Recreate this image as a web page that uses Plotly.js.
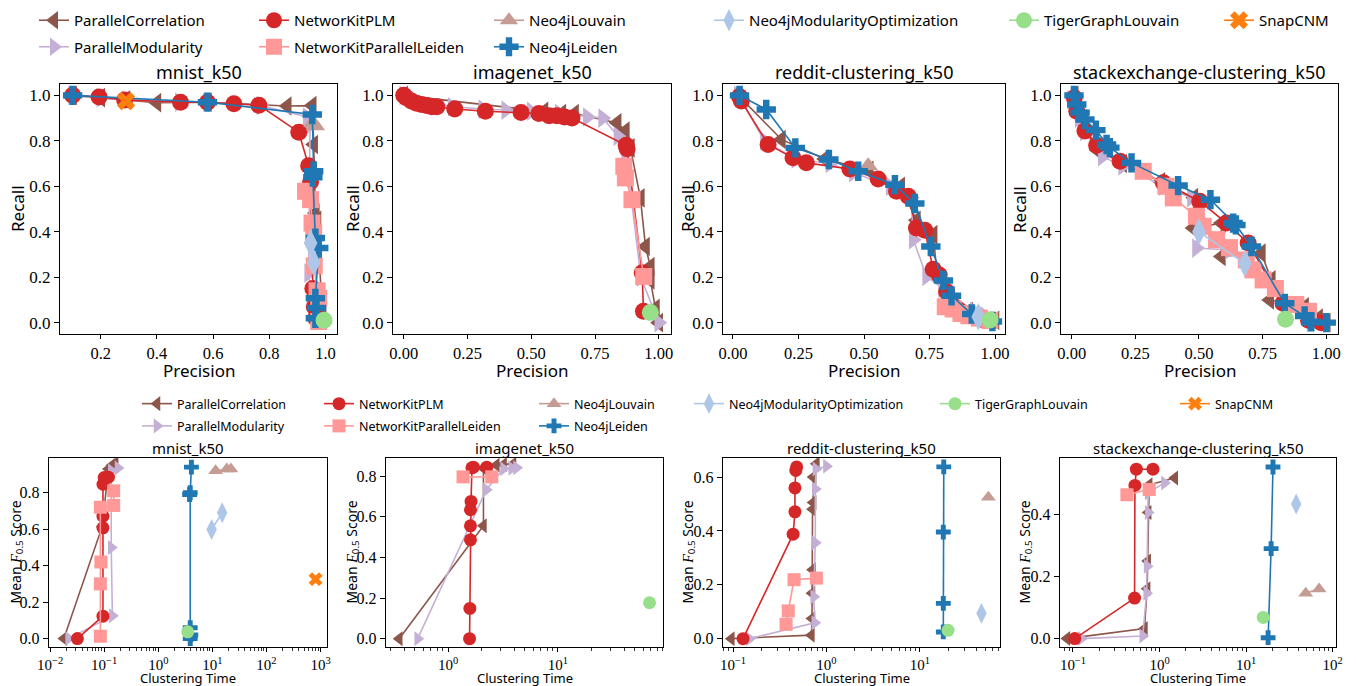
<!DOCTYPE html>
<html><head><meta charset="utf-8">
<script src="https://cdn.plot.ly/plotly-3.0.1.min.js"></script>
<style>html,body{margin:0;padding:0;background:#fff}</style>
</head><body><div id="chart" style="width:1356px;height:686px"></div>
<script>
// ---------- series definitions ----------
const seriesNames = ['ParallelCorrelation','ParallelModularity','NetworKitPLM','NetworKitParallelLeiden','Neo4jLouvain','Neo4jLeiden','Neo4jModularityOptimization','TigerGraphLouvain','SnapCNM'];
const seriesColors = ['#8c564b','#c5b0d5','#d62728','#ff9896','#c49c94','#1f77b4','#aec7e8','#98df8a','#ff7f0e'];
const seriesSymbols = ['triangle-left','triangle-right','circle','square','triangle-up','cross','diamond-tall','circle','x'];
const datasetTitles = ['mnist_k50','imagenet_k50','reddit-clustering_k50','stackexchange-clustering_k50'];

// ---------- Precision / Recall (top row): [precision[], recall[]] ----------
const mnistPR = {
  ParallelCorrelation: [[0.1,0.2,0.29,0.40,0.58,0.864,0.953,0.958,0.964,0.97,0.988,0.98],[1.0,0.99,0.98,0.968,0.97,0.953,0.955,0.784,0.482,0.45,0.063,0.01]],
  ParallelModularity: [[0.1,0.2,0.29,0.48,0.58,0.77,0.935,0.945,0.94,0.955],[1.0,0.99,0.98,0.97,0.97,0.955,0.905,0.87,0.218,0.04]],
  NetworKitPLM: [[0.1,0.194,0.285,0.484,0.58,0.674,0.763,0.905,0.94,0.947,0.955,0.96,0.965],[1.0,0.993,0.98,0.97,0.97,0.963,0.957,0.838,0.69,0.62,0.15,0.07,0.02]],
  NetworKitParallelLeiden: [[0.929,0.947,0.952,0.958,0.96,0.97,0.976,0.976],[0.578,0.541,0.438,0.394,0.25,0.14,0.107,0.005]],
  Neo4jLouvain: [[0.955,0.964],[0.88,0.865]],
  Neo4jLeiden: [[0.1,0.58,0.953,0.958,0.955,0.964,0.976,0.964,0.968,0.964],[1.0,0.97,0.916,0.666,0.64,0.372,0.328,0.107,0.065,0.019]],
  Neo4jModularityOptimization: [[0.947,0.958],[0.35,0.265]],
  TigerGraphLouvain: [[0.995],[0.01]],
  SnapCNM: [[0.29],[0.975]]
};
const imagenetPR = {
  ParallelCorrelation: [[0.0,0.55,0.62,0.67,0.837,0.869,0.889,0.928,0.948,0.967,0.967,0.987,1.0],[1.0,0.93,0.92,0.92,0.879,0.843,0.769,0.549,0.335,0.247,0.188,0.063,0.0]],
  ParallelModularity: [[0.0,0.19,0.31,0.40,0.50,0.61,0.72,0.78,0.84,0.87,0.93,1.0],[1.0,0.95,0.94,0.935,0.93,0.92,0.905,0.9,0.82,0.75,0.2,0.0]],
  NetworKitPLM: [[0.0,0.01,0.03,0.05,0.07,0.09,0.11,0.13,0.20,0.32,0.46,0.53,0.57,0.60,0.63,0.66,0.872,0.876,0.935,0.94],[1.0,0.99,0.975,0.965,0.96,0.955,0.95,0.95,0.94,0.93,0.925,0.92,0.91,0.91,0.905,0.9,0.78,0.765,0.22,0.05]],
  NetworKitParallelLeiden: [[0.863,0.869,0.895,0.941],[0.688,0.637,0.541,0.203]],
  TigerGraphLouvain: [[0.967],[0.045]]
};
const redditPR = {
  ParallelCorrelation: [[0.02,0.185,0.35,0.52,0.64,0.70,0.764,0.78,0.82,0.90,1.0],[1.0,0.806,0.72,0.67,0.6,0.45,0.387,0.2,0.1,0.05,0.01]],
  ParallelModularity: [[0.02,0.12,0.24,0.37,0.46,0.60,0.68,0.688,0.739,0.80,0.92,0.96],[1.0,0.8,0.72,0.7,0.66,0.6,0.55,0.365,0.203,0.15,0.05,0.03]],
  NetworKitPLM: [[0.025,0.032,0.134,0.229,0.28,0.446,0.554,0.624,0.669,0.70,0.732,0.764,0.787,0.815,0.96],[0.995,0.975,0.784,0.725,0.703,0.676,0.632,0.578,0.556,0.416,0.406,0.235,0.21,0.137,0.01]],
  NetworKitParallelLeiden: [[0.81,0.84,0.87,0.90,0.94,0.98],[0.07,0.06,0.04,0.03,0.02,0.01]],
  Neo4jLouvain: [[0.516],[0.69]],
  Neo4jLeiden: [[0.025,0.127,0.238,0.366,0.478,0.618,0.694,0.755,0.803,0.834,0.911,0.99],[1.0,0.938,0.769,0.718,0.666,0.607,0.524,0.335,0.185,0.118,0.038,0.005]],
  Neo4jModularityOptimization: [[0.936],[0.026]],
  TigerGraphLouvain: [[0.981],[0.012]]
};
const stackPR = {
  ParallelCorrelation: [[0.01,0.05,0.10,0.20,0.35,0.48,0.477,0.588,0.588,0.745,0.784,0.778,0.915,0.97,1.0],[1.0,0.87,0.76,0.7,0.62,0.55,0.416,0.438,0.291,0.306,0.188,0.1,0.07,0.02,0.0]],
  ParallelModularity: [[0.0,0.03,0.05,0.12,0.20,0.36,0.47,0.50,0.49,0.62,0.94],[0.98,0.9,0.84,0.73,0.69,0.6,0.55,0.52,0.328,0.32,0.0]],
  NetworKitPLM: [[0.01,0.02,0.052,0.098,0.19,0.36,0.503,0.608,0.693,0.83,0.93,0.98],[0.99,0.93,0.843,0.78,0.71,0.615,0.534,0.438,0.35,0.085,0.01,0.0]],
  NetworKitParallelLeiden: [[0.281,0.37,0.399,0.49,0.516,0.569,0.62,0.686,0.712,0.752,0.80,0.88,0.93],[0.666,0.6,0.549,0.468,0.424,0.365,0.33,0.276,0.232,0.188,0.15,0.08,0.05]],
  Neo4jLeiden: [[0.009,0.02,0.033,0.052,0.095,0.137,0.15,0.235,0.418,0.545,0.634,0.645,0.706,0.837,0.915,0.941,1.0],[1.0,0.96,0.924,0.894,0.847,0.784,0.77,0.703,0.603,0.541,0.438,0.43,0.335,0.085,0.029,0.004,0.0]],
  Neo4jModularityOptimization: [[0.50,0.68],[0.40,0.26]],
  TigerGraphLouvain: [[0.84],[0.015]]
};

// ---------- Clustering time / mean F0.5 (bottom row): [time[], f05[]] ----------
const mnistTF = {
  ParallelCorrelation: [[0.018,0.092,0.12,0.14,0.16],[0.0,0.615,0.93,0.95,0.96]],
  ParallelModularity: [[0.022,0.142,0.135,0.135,0.18],[0.0,0.125,0.5,0.92,0.935]],
  NetworKitPLM: [[0.032,0.095,0.095,0.095,0.095,0.1,0.12],[0.0,0.123,0.607,0.671,0.846,0.883,0.885]],
  NetworKitParallelLeiden: [[0.085,0.085,0.087,0.085,0.15,0.15],[0.013,0.3,0.42,0.72,0.73,0.81]],
  Neo4jLouvain: [[11.5,18.5,22],[0.92,0.93,0.93]],
  Neo4jLeiden: [[3.9,4.0,3.9,3.8,3.9,4.1],[0.0,0.02,0.06,0.79,0.80,0.94]],
  Neo4jModularityOptimization: [[9.7,15.2],[0.598,0.69]],
  TigerGraphLouvain: [[3.5],[0.037]],
  SnapCNM: [[810],[0.326]]
};
const imagenetTF = {
  ParallelCorrelation: [[0.36,2.1,2.1,2.75,3.2,3.9],[0.0,0.556,0.84,0.855,0.858,0.86]],
  ParallelModularity: [[0.53,2.23,3.2,3.8,4.2],[0.0,0.734,0.837,0.84,0.842]],
  NetworKitPLM: [[1.57,1.58,1.6,1.6,1.6,1.62,1.65,1.7,2.25],[0.0,0.149,0.487,0.556,0.635,0.676,0.842,0.845,0.845]],
  NetworKitParallelLeiden: [[1.37,2.5],[0.797,0.797]],
  TigerGraphLouvain: [[68],[0.177]]
};
const redditTF = {
  ParallelCorrelation: [[0.096,0.69,0.70,0.70,0.71,0.71,0.72,0.72,0.78],[0.0,0.013,0.075,0.169,0.256,0.481,0.506,0.6,0.65]],
  ParallelModularity: [[0.15,0.75,0.73,0.76,0.76,0.77,1.0],[0.0,0.059,0.156,0.356,0.556,0.63,0.64]],
  NetworKitPLM: [[0.128,0.44,0.46,0.46,0.47,0.48],[0.0,0.388,0.471,0.56,0.625,0.638]],
  NetworKitParallelLeiden: [[0.37,0.39,0.45,0.78],[0.053,0.103,0.219,0.225]],
  Neo4jLouvain: [[54],[0.525]],
  Neo4jLeiden: [[17.8,17.8,17.8,18.0],[0.025,0.131,0.396,0.638]],
  Neo4jModularityOptimization: [[45.6],[0.094]],
  TigerGraphLouvain: [[20],[0.031]]
};
const stackTF = {
  ParallelCorrelation: [[0.085,0.67,0.72,0.73,0.74,0.76,1.5],[0.0,0.032,0.16,0.249,0.405,0.494,0.516]],
  ParallelModularity: [[0.125,0.64,0.71,0.72,0.74,0.74,1.14],[0.0,0.008,0.146,0.232,0.405,0.468,0.5]],
  NetworKitPLM: [[0.105,0.515,0.52,0.54,0.84],[0.0,0.13,0.492,0.544,0.544]],
  NetworKitParallelLeiden: [[0.42,0.76],[0.462,0.479]],
  Neo4jLouvain: [[49,70],[0.146,0.159]],
  Neo4jLeiden: [[18,19.5,20.5],[0.003,0.289,0.551]],
  Neo4jModularityOptimization: [[38],[0.432]],
  TigerGraphLouvain: [[15.8],[0.068]]
};

const prPanels = [mnistPR, imagenetPR, redditPR, stackPR];
const tfPanels = [mnistTF, imagenetTF, redditTF, stackTF];

// axis ranges
const prXRanges = [[0.055,1.041],[-0.042,1.048],[-0.038,1.038],[-0.042,1.046]];
const prYRange = [-0.05,1.05];
const tfXRangesLog = [[-2.02,3.12],[-0.564,1.955],[-1.107,1.857],[-1.15,2.04]];
const tfYRanges = [[-0.046,0.99],[-0.041,0.89],[-0.031,0.671],[-0.027,0.58]];
const tfYTicks = [[0,0.2,0.4,0.6,0.8],[0,0.2,0.4,0.6,0.8],[0,0.2,0.4,0.6],[0,0.2,0.4]];

// ---------- layout geometry (pixels) ----------
const W = 1356, H = 686;
const topXpx = [[60,337],[393,671],[723,1005],[1061,1338]];
const botXpx = [[49,327],[386,663],[723,1000],[1060,1336]];
const topYpx = [84,334], botYpx = [458,647];
const px = v => v / W, py = v => (H - v) / H;

// legend columns (column-major like the original)
const legendCols = [[0,1],[2,3],[4,5],[6],[7],[8]];
const topLegendTextX = [74,294,529,749,1044,1259];
const botLegendTextX = [177,359,574,729,975,1215];

const serif = 'Liberation Serif, DejaVu Serif, serif';
const sans = 'Noto Sans, DejaVu Sans, sans-serif';

function legendIdFor(s, bottom) {
  let col = legendCols.findIndex(c => c.includes(s));
  let n = col + 1 + (bottom ? 6 : 0);
  return n === 1 ? 'legend' : 'legend' + n;
}

const traces = [];
function addPanel(data, axisIdx, bottom, first) {
  const msize = bottom ? 13 : 17;
  seriesNames.forEach((name, s) => {
    const d = data[name];
    if (!d) return;
    const sym = seriesSymbols[s];
    let size = msize;
    if (sym === 'x' || sym === 'cross') size = msize * 0.95;
    if (sym === 'diamond-tall') size = msize * 1.15;
    traces.push({
      type: 'scatter', mode: 'lines+markers',
      x: d[0], y: d[1],
      xaxis: 'x' + (axisIdx === 1 ? '' : axisIdx), yaxis: 'y' + (axisIdx === 1 ? '' : axisIdx),
      name: name, legendgroup: name,
      showlegend: first, legend: legendIdFor(s, bottom),
      line: {color: seriesColors[s], width: 1.6},
      marker: {color: seriesColors[s], symbol: sym, size: size, line: {width: 0}},
      cliponaxis: true
    });
  });
}
prPanels.forEach((d, i) => addPanel(d, i + 1, false, i === 0));
tfPanels.forEach((d, i) => addPanel(d, i + 5, true, i === 0));

const layout = {
  width: W, height: H,
  margin: {l: 0, r: 0, t: 0, b: 0},
  paper_bgcolor: '#fff', plot_bgcolor: '#fff',
  font: {family: sans, color: '#000'},
  annotations: [],
  showlegend: true
};

// top-row axes
for (let i = 0; i < 4; i++) {
  const k = i + 1;
  const xa = 'xaxis' + (k === 1 ? '' : k), ya = 'yaxis' + (k === 1 ? '' : k);
  const xt = i === 0 ? [0.2,0.4,0.6,0.8,1.0] : [0,0.25,0.5,0.75,1.0];
  layout[xa] = {
    domain: [px(topXpx[i][0]), px(topXpx[i][1])], anchor: 'y' + (k === 1 ? '' : k),
    range: prXRanges[i], tickmode: 'array', tickvals: xt, tickformat: i === 0 ? '.1f' : '.2f',
    ticks: 'outside', ticklen: 4, tickwidth: 1, tickcolor: '#000',
    showline: true, mirror: true, linecolor: '#000', linewidth: 1.2,
    showgrid: false, zeroline: false, tickfont: {family: serif, size: 16.5, color: '#000'}
  };
  layout[ya] = {
    domain: [py(topYpx[1]), py(topYpx[0])], anchor: 'x' + (k === 1 ? '' : k),
    range: prYRange, tickmode: 'array', tickvals: [0,0.2,0.4,0.6,0.8,1.0], tickformat: '.1f',
    ticks: 'outside', ticklen: 5, tickwidth: 1, tickcolor: '#000',
    showline: true, mirror: true, linecolor: '#000', linewidth: 1.2,
    showgrid: false, zeroline: false, tickfont: {family: serif, size: 17, color: '#000'}
  };
}

// bottom-row axes (log x)
const majorExps = [-2,-1,0,1,2,3];
const minorVals = [];
for (let e = -3; e <= 3; e++) for (let m = 2; m <= 9; m++) minorVals.push(m * Math.pow(10, e));
for (let i = 0; i < 4; i++) {
  const k = i + 5;
  const xa = 'xaxis' + k, ya = 'yaxis' + k;
  layout[xa] = {
    type: 'log', domain: [px(botXpx[i][0]), px(botXpx[i][1])], anchor: 'y' + k,
    range: tfXRangesLog[i], tickmode: 'array',
    tickvals: majorExps.map(e => Math.pow(10, e)),
    ticktext: majorExps.map(e => '10<sup>' + (e < 0 ? '\u2212' + (-e) : e) + '</sup>'),
    ticks: 'outside', ticklen: 4, tickwidth: 1, tickcolor: '#000',
    minor: {tickmode: 'array', tickvals: minorVals, ticks: 'outside', ticklen: 2.5, tickwidth: 0.8, tickcolor: '#000', showgrid: false},
    showline: true, mirror: true, linecolor: '#000', linewidth: 1.2,
    showgrid: false, zeroline: false, tickfont: {family: serif, size: 15, color: '#000'}
  };
  layout[ya] = {
    domain: [py(botYpx[1]), py(botYpx[0])], anchor: 'x' + k,
    range: tfYRanges[i], tickmode: 'array', tickvals: tfYTicks[i], tickformat: '.1f',
    ticks: 'outside', ticklen: 5, tickwidth: 1, tickcolor: '#000',
    showline: true, mirror: true, linecolor: '#000', linewidth: 1.2,
    showgrid: false, zeroline: false, tickfont: {family: serif, size: 16, color: '#000'}
  };
}

// titles and axis labels as annotations
const recallX = [18, 353, 688, 1020];
const f05X = [16, 352, 688, 1025];
for (let i = 0; i < 4; i++) {
  const cxTop = (topXpx[i][0] + topXpx[i][1]) / 2;
  const cxBot = (botXpx[i][0] + botXpx[i][1]) / 2;
  layout.annotations.push(
    {text: datasetTitles[i], x: px(cxTop), y: py(72), xref: 'paper', yref: 'paper', xanchor: 'center', yanchor: 'middle', showarrow: false, font: {family: sans, size: 18, color: '#000'}},
    {text: 'Precision', x: px(cxTop), y: py(370), xref: 'paper', yref: 'paper', xanchor: 'center', yanchor: 'middle', showarrow: false, font: {family: sans, size: 17, color: '#000'}},
    {text: 'Recall', x: px(recallX[i]), y: py((topYpx[0] + topYpx[1]) / 2), xref: 'paper', yref: 'paper', xanchor: 'center', yanchor: 'middle', textangle: -90, showarrow: false, font: {family: sans, size: 17, color: '#000'}},
    {text: datasetTitles[i], x: px(cxBot), y: py(448), xref: 'paper', yref: 'paper', xanchor: 'center', yanchor: 'middle', showarrow: false, font: {family: sans, size: 15, color: '#000'}},
    {text: 'Clustering Time', x: px(cxBot), y: py(678), xref: 'paper', yref: 'paper', xanchor: 'center', yanchor: 'middle', showarrow: false, font: {family: sans, size: 13, color: '#000'}},
    {text: 'Mean <span style="font-family:Liberation Serif"><i>F</i></span><sub>0.5</sub> Score', x: px(f05X[i]), y: py((botYpx[0] + botYpx[1]) / 2), xref: 'paper', yref: 'paper', xanchor: 'center', yanchor: 'middle', textangle: -90, showarrow: false, font: {family: sans, size: 14, color: '#000'}}
  );
}

// legends: one vertical legend per column, top and bottom
for (let c = 0; c < 6; c++) {
  const topId = c === 0 ? 'legend' : 'legend' + (c + 1);
  const botId = 'legend' + (c + 7);
  layout[topId] = {
    x: px(topLegendTextX[c] - 40), y: py(4), xanchor: 'left', yanchor: 'top',
    orientation: 'v', traceorder: 'grouped', tracegroupgap: 4,
    bgcolor: 'rgba(0,0,0,0)', borderwidth: 0,
    font: {family: sans, size: 15, color: '#000'}, itemclick: false
  };
  layout[botId] = {
    x: px(botLegendTextX[c] - 40), y: py(389), xanchor: 'left', yanchor: 'top',
    orientation: 'v', traceorder: 'grouped', tracegroupgap: 3,
    bgcolor: 'rgba(0,0,0,0)', borderwidth: 0,
    font: {family: sans, size: 12.5, color: '#000'}, itemclick: false
  };
}

Plotly.newPlot('chart', traces, layout, {staticPlot: true, displayModeBar: false});
</script>
</body></html>
